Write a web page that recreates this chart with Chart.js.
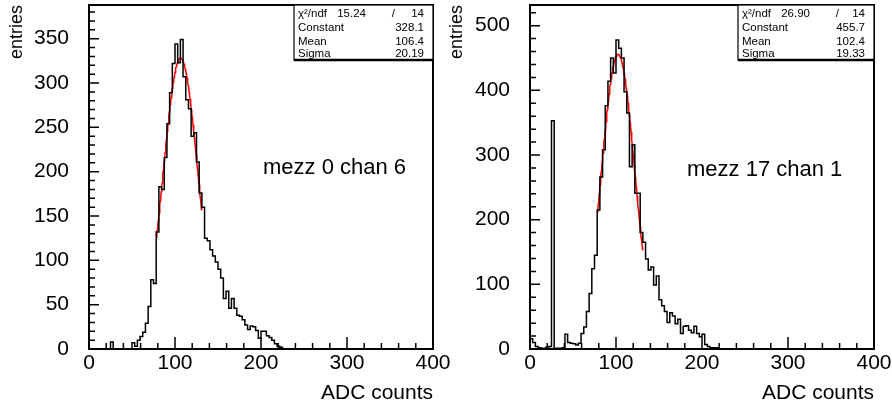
<!DOCTYPE html>
<html lang="en">
<head>
  <meta charset="UTF-8" />
  <title>ADC spectra</title>
  <script src="https://cdn.jsdelivr.net/npm/chart.js"></script>
  <style>
    body { margin: 0; background: #fff; overflow: hidden; }
    .panel { position: absolute; top: 0; width: 460px; height: 410px; }
    #left { left: 0; }
    #right { left: 446px; }
  </style>
</head>
<body>
  <div class="panel" id="left"><canvas id="chartLeft" width="460" height="410"></canvas></div>
  <div class="panel" id="right"><canvas id="chartRight" width="460" height="410"></canvas></div>

  <script>
    // 128 bins from 0 to 400 ADC counts
    const binLow = 0;
    const binWidth = 3.125;

    // mezz 0 chan 6
    const countsLeft = [
      0, 0, 0, 0, 0, 0, 0, 0, 8, 0, 0, 0, 0, 0, 0, 0,
      7, 3, 10, 14, 19, 29, 48, 78, 74, 132, 183, 180, 216, 254, 289, 322,
      344, 323, 349, 307, 281, 271, 240, 244, 211, 176, 160, 125, 122, 112, 105, 98,
      90, 80, 57, 65, 46, 57, 46, 38, 37, 33, 27, 22, 26, 25, 21, 12,
      20, 20, 15, 13, 10, 6, 3, 2, 0, 0, 0, 0, 0, 0, 0, 0,
      0, 0, 0, 0, 0, 0, 0, 0, 0, 0, 0, 0, 0, 0, 0, 0,
      0, 0, 0, 0, 0, 0, 0, 0, 0, 0, 0, 0, 0, 0, 0, 0,
      0, 0, 0, 0, 0, 0, 0, 0, 0, 0, 0, 0, 0, 0, 0, 0
    ];

    // mezz 17 chan 1
    const countsRight = [
      16, 10, 4, 2, 1, 1, 3, 4, 353, 1, 1, 1, 2, 23, 10, 9,
      8, 6, 9, 24, 34, 58, 86, 124, 145, 215, 266, 308, 376, 414, 450, 427,
      478, 465, 450, 398, 365, 282, 316, 241, 241, 180, 165, 139, 122, 127, 99, 113,
      76, 67, 58, 41, 56, 51, 39, 46, 24, 35, 36, 29, 25, 35, 24, 19,
      23, 7, 4, 2, 2, 2, 0, 0, 0, 0, 0, 0, 0, 0, 0, 0,
      0, 0, 0, 0, 0, 0, 0, 0, 0, 0, 0, 0, 0, 0, 0, 0,
      0, 0, 0, 0, 0, 0, 0, 0, 0, 0, 0, 0, 0, 0, 0, 0,
      0, 0, 0, 0, 0, 0, 0, 0, 0, 0, 0, 0, 0, 0, 0, 0
    ];

    // gaussian fit: constant, mean, sigma (as printed in the stats boxes)
    const fitLeft = [328.1, 106.4, 20.19];
    const fitRight = [455.7, 102.4, 19.33];
    const fitRange = [78.5, 131];

    const statsLeft = [["χ²/ndf", "15.24", "/", "14"], ["Constant", "328.1"], ["Mean", "106.4"], ["Sigma", "20.19"]];
    const statsRight = [["χ²/ndf", "26.90", "/", "14"], ["Constant", "455.7"], ["Mean", "102.4"], ["Sigma", "19.33"]];

    const xTicks = [0, 100, 200, 300, 400];
    const FONT = "'Liberation Sans', Arial, sans-serif";

    function histPoints(counts) {
      const pts = counts.map((c, i) => ({ x: binLow + i * binWidth, y: c }));
      pts.push({ x: binLow + counts.length * binWidth, y: counts[counts.length - 1] });
      return pts;
    }

    function gausPoints(p) {
      const pts = [];
      for (let x = fitRange[0]; x <= fitRange[1] + 1e-9; x += 0.5) {
        const t = (x - p[1]) / p[2];
        pts.push({ x: x, y: p[0] * Math.exp(-0.5 * t * t) });
      }
      return pts;
    }

    // frame, inside ticks, stats box and label, ROOT style
    const rootFrame = {
      id: 'rootFrame',
      afterDatasetsDraw(chart, args, o) {
        const { ctx, chartArea: a, scales: { x, y } } = chart;
        ctx.save();
        ctx.strokeStyle = '#000';
        ctx.lineWidth = 1.5;
        ctx.beginPath();
        for (let v = 0; v <= 400; v += 20) {
          const px = x.getPixelForValue(v);
          const len = v % 100 === 0 ? 12 : 6;
          ctx.moveTo(px, a.bottom);
          ctx.lineTo(px, a.bottom - len);
        }
        for (let v = 0; v <= y.max; v += o.minor) {
          const py = y.getPixelForValue(v);
          const len = v % o.major === 0 ? 10 : 6;
          ctx.moveTo(a.left, py);
          ctx.lineTo(a.left + len, py);
        }
        ctx.stroke();

        ctx.lineWidth = 2;
        ctx.strokeRect(a.left, a.top, a.right - a.left, a.bottom - a.top);

        // stats box
        const bw = o.boxW, bh = 55;
        const bx = a.right - bw, by = a.top;
        ctx.fillStyle = '#fff';
        ctx.fillRect(bx, by, bw, bh);
        ctx.lineWidth = 1.2;
        ctx.strokeRect(bx, by, bw, bh);
        ctx.lineWidth = 2.5;
        ctx.beginPath();
        ctx.moveTo(bx, by + bh);
        ctx.lineTo(a.right, by + bh);
        ctx.stroke();

        ctx.fillStyle = '#000';
        ctx.font = '11.5px ' + FONT;
        ctx.textBaseline = 'alphabetic';
        const rowY = [12, 26, 39.5, 52];
        o.stats.forEach((row, i) => {
          const ty = by + rowY[i];
          ctx.textAlign = 'left';
          ctx.fillText(row[0], bx + 4, ty);
          ctx.textAlign = 'right';
          if (row.length === 4) {
            ctx.fillText(row[1], bx + 72, ty);
            ctx.fillText(row[2], bx + 101, ty);
            ctx.fillText(row[3], a.right - 9, ty);
          } else {
            ctx.fillText(row[1], a.right - 9, ty);
          }
        });

        ctx.font = '22px ' + FONT;
        ctx.textAlign = 'left';
        ctx.fillText(o.label, a.left + o.labelX, o.labelY);
        ctx.restore();
      }
    };

    function makeChart(id, counts, fit, yMax, yStep, yMinor, stats, boxW, label, labelX, labelY, axisW, padRight, titlePad) {
      return new Chart(document.getElementById(id), {
        type: 'line',
        data: {
          datasets: [
            {
              data: histPoints(counts),
              stepped: 'before',
              borderColor: '#000',
              borderWidth: 1.5,
              pointRadius: 0,
              fill: false
            },
            {
              data: gausPoints(fit),
              borderColor: '#ff0000',
              borderWidth: 1.5,
              pointRadius: 0,
              fill: false,
              tension: 0
            }
          ]
        },
        options: {
          responsive: false,
          animation: false,
          layout: { padding: { left: 0, top: 5, right: padRight, bottom: 0 } },
          plugins: {
            legend: { display: false },
            tooltip: { enabled: false },
            rootFrame: { major: yStep, minor: yMinor, stats: stats, boxW: boxW, label: label, labelX: labelX, labelY: labelY }
          },
          scales: {
            x: {
              type: 'linear',
              min: 0,
              max: 400,
              grid: { display: false, drawTicks: false },
              border: { display: false },
              afterFit: s => { s.height = 61; },
              afterBuildTicks: s => { s.ticks = xTicks.map(v => ({ value: v })); },
              ticks: { padding: 2, color: '#000', font: { family: FONT, size: 21 }, autoSkip: false, maxRotation: 0 },
              title: { display: true, text: 'ADC counts', align: 'end', color: '#000', font: { family: FONT, size: 21 }, padding: { top: 0, bottom: 4 } }
            },
            y: {
              min: 0,
              max: yMax,
              // invisible tick marks only give the gap between labels and frame
              grid: { display: false, drawTicks: true, tickLength: 20 },
              border: { display: false },
              afterFit: s => { s.width = axisW; },
              ticks: { stepSize: yStep, includeBounds: false, padding: 0, color: '#000', font: { family: FONT, size: 21, lineHeight: 0.4 }, autoSkip: false },
              title: { display: true, text: 'entries', align: 'end', color: '#000', font: { family: FONT, size: 18 }, padding: { top: titlePad, bottom: 0 } }
            }
          }
        },
        plugins: [rootFrame]
      });
    }

    makeChart('chartLeft', countsLeft, fitLeft, 388, 50, 10, statsLeft, 139, 'mezz 0 chan 6', 174, 174, 89, 27, 6);
    makeChart('chartRight', countsRight, fitRight, 532, 100, 20, statsRight, 136, 'mezz 17 chan 1', 157, 176, 84, 32, 0);
  </script>
</body>
</html>
